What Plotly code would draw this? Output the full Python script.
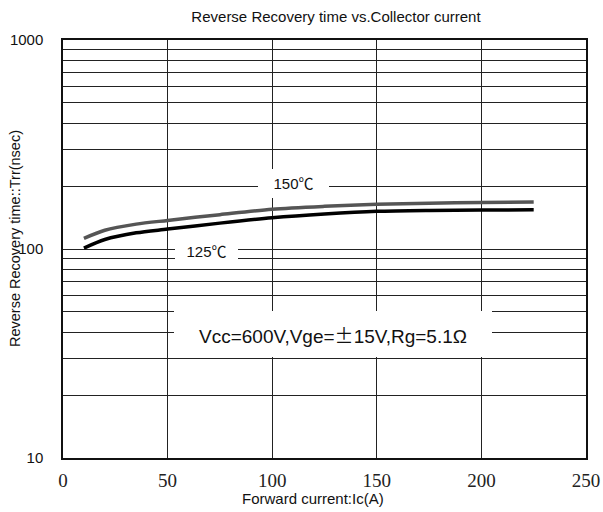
import math
import plotly.graph_objects as go

# Forward current Ic (A)
current = [10, 20, 35, 50, 75, 100, 125, 150, 175, 200, 225]
# Reverse recovery time Trr (nsec)
trr_150 = [112.5, 123, 131.5, 137, 146, 155, 160, 163.5, 165.5, 167, 168]
trr_125 = [101, 111, 119.5, 124.5, 133, 141, 147, 151.5, 153, 153.5, 154]

x_ticks = [0, 50, 100, 150, 200, 250]
y_grid = [10, 20, 30, 40, 50, 60, 70, 80, 90,
          100, 200, 300, 400, 500, 600, 700, 800, 900, 1000]
y_labels = {10: "10", 100: "100", 1000: "1000"}

SANS = "Liberation Sans, Arial, Noto Sans CJK SC"
SERIF = "Liberation Serif, Times New Roman, serif"
W, H = 603, 512
M = dict(l=63, r=17, t=40, b=54)

fig = go.Figure()
fig.add_trace(go.Scatter(x=current, y=trr_150, mode="lines",
                         line=dict(color="#555555", width=3.5, shape="spline", smoothing=0.8),
                         name="150℃"))
fig.add_trace(go.Scatter(x=current, y=trr_125, mode="lines",
                         line=dict(color="#000000", width=3.5, shape="spline", smoothing=0.8),
                         name="125℃"))

# étiquettes sur fond blanc qui masquent la grille
labels = [
    dict(x=110, y=200, text="150℃", width=71, height=29, size=15, yshift=3),
    dict(x=68.5, y=98, text="125℃", width=63, height=24, size=15, yshift=0),
    dict(x=129, y=38.4,
         text="Vcc=600V,Vge=<span style=\"font-family:'Noto Sans CJK SC'\">±</span>15V,Rg=5.1Ω",
         width=318, height=46, size=19, yshift=2),
]
annotations = []
for lab in labels:
    annotations.append(dict(
        x=lab["x"], y=math.log10(lab["y"]), xref="x", yref="y", yshift=lab["yshift"],
        text=lab["text"], showarrow=False, bgcolor="white",
        width=lab["width"], height=lab["height"], borderpad=0, borderwidth=0,
        font=dict(family=SANS, size=lab["size"], color="#111111"),
        xanchor="center", yanchor="middle", align="center", valign="middle",
    ))

# titres des axes placés en pixels
plot_w = W - M["l"] - M["r"]
plot_h = H - M["t"] - M["b"]
annotations.append(dict(text="Forward current:Ic(A)", xref="paper", yref="paper",
                        x=(313 - M["l"]) / plot_w, y=1 - (499 - M["t"]) / plot_h,
                        xanchor="center", yanchor="middle",
                        showarrow=False, font=dict(family=SANS, size=15, color="#111111")))
annotations.append(dict(text="Reverse Recovery time::Trr(nsec)", xref="paper", yref="paper",
                        x=(15 - M["l"]) / plot_w, y=1 - (239 - M["t"]) / plot_h,
                        xanchor="center", yanchor="middle",
                        textangle=-90, showarrow=False,
                        font=dict(family=SANS, size=14.5, color="#111111")))

fig.update_layout(
    width=W, height=H,
    margin=M,
    paper_bgcolor="white", plot_bgcolor="white",
    showlegend=False,
    annotations=annotations,
    title=dict(text="Reverse Recovery time vs.Collector current",
               x=336 / W, xanchor="center", y=1 - 17 / H, yanchor="middle",
               font=dict(family=SANS, size=15, color="#111111")),
    xaxis=dict(range=[0, 250], tickvals=x_ticks, showgrid=True, automargin=False,
               gridcolor="#222222", gridwidth=1, zeroline=False,
               showline=True, linecolor="#111111", linewidth=1.5, mirror=True,
               ticks="", ticklabelstandoff=4,
               tickfont=dict(family=SERIF, size=19, color="#222222")),
    yaxis=dict(type="log", range=[1, 3], tickvals=y_grid, automargin=False,
               ticktext=[y_labels.get(v, "") for v in y_grid],
               showgrid=True, gridcolor="#222222", gridwidth=1, zeroline=False,
               showline=True, linecolor="#111111", linewidth=1.5, mirror=True,
               ticks="", ticklabelstandoff=15,
               tickfont=dict(family=SANS, size=15, color="#111111")),
)

# pas de marge autour du graphique dans la page
fig.write_html("out.html", config={"displayModeBar": False},
               post_script="document.body.style.margin='0';")
